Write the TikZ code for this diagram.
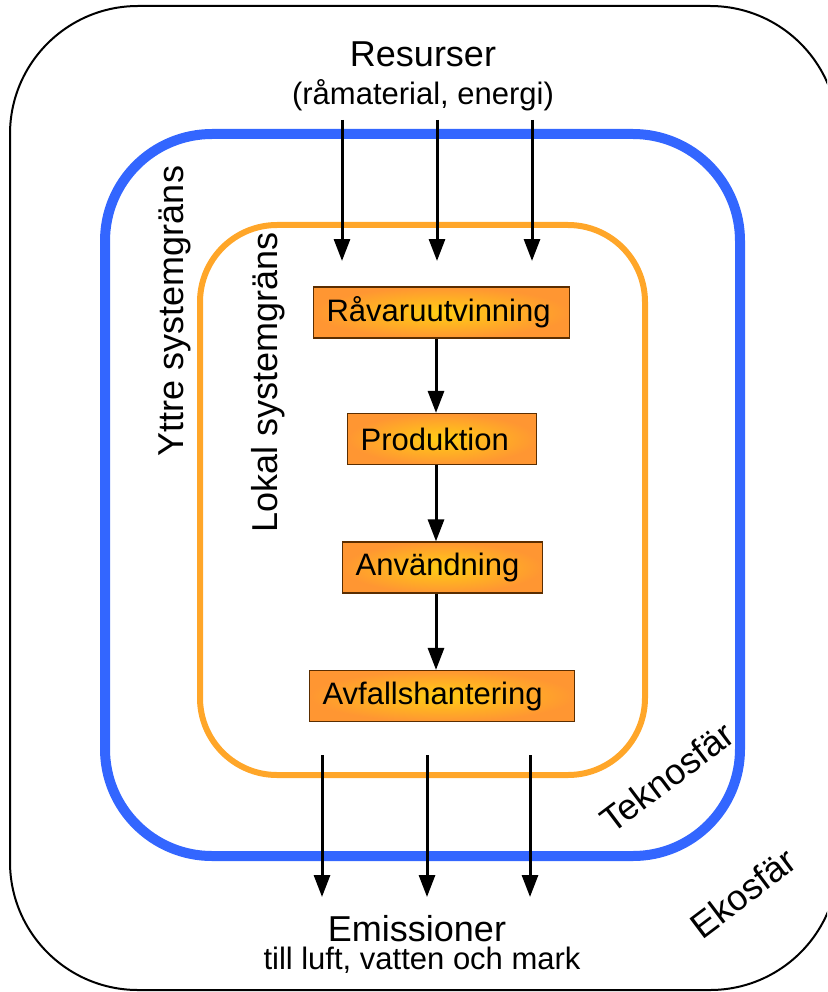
\documentclass[tikz,border=0pt]{standalone}
\usepackage{fontspec}
\setmainfont{Liberation Sans}
\usetikzlibrary{arrows.meta}

\definecolor{blaa}{RGB}{51,102,255}
\definecolor{orangelinje}{RGB}{255,166,41}
\definecolor{boxkant}{RGB}{90,45,0}
\definecolor{boxinne}{RGB}{255,206,20}
\definecolor{boxyttre}{RGB}{255,150,50}

\begin{document}
\begin{tikzpicture}[x=1pt, y=-1pt,
	pil/.style={-{Triangle[length=22pt,width=16pt]}, line width=3pt},
	steg/.style={draw=boxkant, line width=1.2pt, inner color=boxinne, outer color=boxyttre, inner xsep=13pt, minimum height=51pt, align=left, anchor=west, font=\fontsize{31}{36}\selectfont},
	stor/.style={inner sep=0pt, font=\fontsize{36}{42}\selectfont},
	liten/.style={inner sep=0pt, font=\fontsize{31}{36}\selectfont}]
	\clip (0,0) rectangle (827,992);
	\draw[line width=2pt, rounded corners=128pt] (10,6) rectangle (838,990);
	\draw[blaa, line width=10pt, rounded corners=107pt] (105,134) rectangle (740,856);
	\draw[orangelinje, line width=6pt, rounded corners=77pt] (200,225) rectangle (645,775);

	\node[steg, text width=230pt] (rv) at (313,312.5) {Råvaruutvinning};
	\node[steg, text width=163pt] (prod) at (347,439) {Produktion};
	\node[steg, text width=174pt] (anv) at (342,567.5) {Användning};
	\node[steg, text width=239pt] (avf) at (309,696) {Avfallshantering};

	\coordinate (mitt) at (436,0);
	\draw[pil] (rv.south -| mitt) -- (prod.north -| mitt);
	\draw[pil] (prod.south -| mitt) -- (anv.north -| mitt);
	\draw[pil] (anv.south -| mitt) -- (avf.north -| mitt);

	\foreach \x [count=\i] in {342,437,532} {
		\coordinate (in\i) at (\x,120);
		\coordinate (inpil\i) at (\x,261);
		\draw[pil] (in\i) -- (inpil\i);
	}
	\foreach \x [count=\i] in {322,427,530} {
		\coordinate (ut\i) at (\x,755);
		\coordinate (utpil\i) at (\x,897);
		\draw[pil] (ut\i) -- (utpil\i);
	}

	\node[stor, anchor=base] (res) at (423,67) {Resurser};
	\node[liten, anchor=base] (resinfo) at (423,105) {(råmaterial, energi)};
	\node[stor, anchor=base] (emi) at (417,941) {Emissioner};
	\node[liten, anchor=base] (emiinfo) at (422,969) {till luft, vatten och mark};
	\node[stor, rotate=90, anchor=base] (yttre) at (183,311) {Yttre systemgräns};
	\node[stor, rotate=90, anchor=base] (lokal) at (277,382) {Lokal systemgräns};
	\node[stor, rotate=37] (tekno) at (667,777) {Teknosfär};
	\node[stor, rotate=37] (eko) at (743,893) {Ekosfär};
\end{tikzpicture}
\end{document}
